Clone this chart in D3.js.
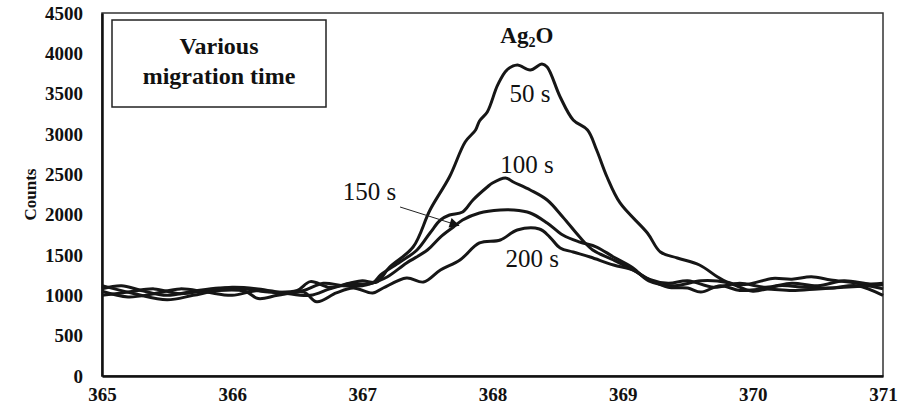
<!DOCTYPE html>
<html>
<head>
<meta charset="utf-8">
<script src="https://cdn.jsdelivr.net/npm/d3@7/dist/d3.min.js"></script>
<style>
	body { margin: 0; background: #fff; }
	svg { display: block; }
	text { font-family: "Liberation Serif", "Times New Roman", serif; fill: #111; }
</style>
</head>
<body>
<div id="chart"></div>
<script>
// binding energy (eV) and counts for each migration time
var energy50 = [365.0, 365.15, 365.3, 365.5, 365.7, 365.9, 366.1, 366.3, 366.5, 366.6, 366.75, 366.9, 367.0, 367.11, 367.21, 367.39, 367.52, 367.67, 367.79, 367.87, 367.9, 367.96, 368.04, 368.11, 368.19, 368.29, 368.38, 368.42, 368.52, 368.62, 368.73, 368.8, 368.88, 368.98, 369.19, 369.29, 369.42, 369.59, 369.73, 369.8, 369.9, 370.0, 370.15, 370.3, 370.45, 370.6, 370.8, 371.0];
var counts50 = [1080, 1120, 1060, 1000, 1050, 1090, 1080, 1040, 1060, 1170, 1100, 1150, 1180, 1165, 1351, 1599, 2058, 2470, 2901, 3050, 3161, 3273, 3608, 3793, 3855, 3793, 3868, 3831, 3459, 3174, 3050, 2802, 2467, 2145, 1773, 1537, 1463, 1376, 1227, 1165, 1130, 1150, 1210, 1200, 1230, 1190, 1150, 1080];

var energy100 = [365.0, 365.2, 365.4, 365.6, 365.8, 366.0, 366.2, 366.4, 366.6, 366.75, 366.9, 367.08, 367.14, 367.29, 367.42, 367.52, 367.6, 367.67, 367.77, 367.85, 367.96, 368.0, 368.1, 368.16, 368.29, 368.42, 368.54, 368.67, 368.77, 368.93, 369.08, 369.2, 369.35, 369.5, 369.7, 369.9, 370.1, 370.3, 370.5, 370.7, 370.9, 371.0];
var counts100 = [1000, 1040, 1080, 1020, 1060, 1100, 1080, 1030, 1000, 1080, 1140, 1153, 1252, 1413, 1562, 1773, 1934, 1996, 2033, 2182, 2343, 2393, 2455, 2405, 2306, 2182, 1971, 1723, 1562, 1438, 1314, 1200, 1150, 1180, 1100, 1150, 1100, 1150, 1120, 1180, 1140, 1150];

var energy150 = [365.0, 365.2, 365.4, 365.6, 365.8, 366.0, 366.2, 366.4, 366.55, 366.7, 366.85, 367.0, 367.08, 367.19, 367.34, 367.5, 367.6, 367.7, 367.77, 367.9, 368.06, 368.16, 368.29, 368.42, 368.54, 368.67, 368.8, 368.93, 369.08, 369.2, 369.4, 369.6, 369.8, 370.0, 370.2, 370.4, 370.6, 370.8, 371.0];
var counts150 = [1050, 980, 1020, 1080, 1040, 1000, 1060, 1020, 1060, 1150, 1120, 1120, 1153, 1227, 1401, 1562, 1723, 1847, 1934, 2021, 2058, 2058, 2021, 1897, 1748, 1661, 1599, 1475, 1339, 1180, 1120, 1180, 1160, 1050, 1120, 1100, 1090, 1120, 1000];

var energy200 = [365.0, 365.25, 365.5, 365.7, 365.9, 366.1, 366.2, 366.35, 366.55, 366.65, 366.8, 366.93, 367.08, 367.16, 367.34, 367.47, 367.6, 367.75, 367.9, 368.06, 368.19, 368.36, 368.44, 368.52, 368.62, 368.75, 368.93, 369.08, 369.2, 369.35, 369.5, 369.6, 369.75, 369.9, 370.1, 370.3, 370.5, 370.7, 370.9, 371.0];
var counts200 = [1120, 1020, 945, 1000, 1060, 1050, 960, 1000, 1040, 920, 1030, 1091, 1029, 1091, 1215, 1165, 1314, 1438, 1649, 1686, 1810, 1822, 1723, 1587, 1537, 1475, 1376, 1314, 1200, 1100, 1090, 1040, 1120, 1060, 1080, 1060, 1080, 1100, 1120, 1130];

var xTicks = [365, 366, 367, 368, 369, 370, 371];
var yTicks = [0, 500, 1000, 1500, 2000, 2500, 3000, 3500, 4000, 4500];

// curve labels, anchored in data units (start of text, baseline)
var labelText = ["50 s", "100 s", "150 s", "200 s"];
var labelX = [368.13, 368.06, 366.85, 368.1];
var labelY = [3397, 2517, 2182, 1351];

document.addEventListener("DOMContentLoaded", function(event) {

	var width = 902;
	var height = 409;
	var margin = {top: 13, right: 19, bottom: 33, left: 102};

	var svg = d3.select("#chart").append("svg")
	.attr("width", width)
	.attr("height", height);

	var x = d3.scaleLinear().domain([365, 371]).range([margin.left, width - margin.right]);
	var y = d3.scaleLinear().domain([0, 4500]).range([height - margin.bottom, margin.top]);

	// frame: thin top/right, heavier left/bottom
	svg.append("rect")
	.attr("x", x(365)).attr("y", y(4500))
	.attr("width", x(371) - x(365)).attr("height", y(0) - y(4500))
	.attr("fill", "none")
	.attr("stroke", "#333")
	.attr("stroke-width", 1.5);

	var xAxis = svg.append("g")
	.attr("transform", "translate(0," + y(0) + ")")
	.call(d3.axisBottom(x).tickValues(xTicks).tickSize(0).tickPadding(12).tickFormat(d3.format("d")));

	var yAxis = svg.append("g")
	.attr("transform", "translate(" + x(365) + ",0)")
	.call(d3.axisLeft(y).tickValues(yTicks).tickSize(0).tickPadding(19).tickFormat(d3.format("d")));

	[xAxis, yAxis].forEach(function(g) {
		g.select(".domain").attr("stroke", "#111").attr("stroke-width", 2.5);
		g.selectAll("text")
		.style("font-family", "'Liberation Serif', serif")
		.style("font-weight", "bold")
		.style("font-size", "19px")
		.attr("fill", "#111");
	});

	svg.append("text")
	.attr("transform", "translate(36," + y(2250) + ") rotate(-90)")
	.attr("text-anchor", "middle")
	.style("font-weight", "bold")
	.style("font-size", "17px")
	.text("Counts");

	// spectra
	var series = [
		{e: energy50, c: counts50},
		{e: energy100, c: counts100},
		{e: energy150, c: counts150},
		{e: energy200, c: counts200}
	];

	var line = d3.line()
	.x(d => x(d[0]))
	.y(d => y(d[1]))
	.curve(d3.curveCatmullRom.alpha(0.5));

	svg.append("g")
	.selectAll("path")
	.data(series)
	.enter().append("path")
	.attr("d", d => line(d.e.map((v, i) => [v, d.c[i]])))
	.attr("fill", "none")
	.attr("stroke", "#161616")
	.attr("stroke-width", 3)
	.attr("stroke-linejoin", "round");

	// curve labels
	svg.append("g")
	.selectAll("text")
	.data(labelText)
	.enter().append("text")
	.attr("x", (d, i) => x(labelX[i]))
	.attr("y", (d, i) => y(labelY[i]))
	.style("font-size", "25px")
	.text(d => d);

	// arrow for the 150 s curve
	svg.append("defs").append("marker")
	.attr("id", "head")
	.attr("viewBox", "0 0 10 10")
	.attr("refX", 9).attr("refY", 5)
	.attr("markerWidth", 14).attr("markerHeight", 10)
	.attr("markerUnits", "userSpaceOnUse")
	.attr("orient", "auto")
	.append("path")
	.attr("d", "M0,0 L10,5 L0,10 z")
	.attr("fill", "#111");

	svg.append("line")
	.attr("x1", x(367.29)).attr("y1", y(2095))
	.attr("x2", x(367.74)).attr("y2", y(1865))
	.attr("stroke", "#222")
	.attr("stroke-width", 1)
	.attr("marker-end", "url(#head)");

	// compound label
	var ag = svg.append("text")
	.attr("x", x(368.06))
	.attr("y", y(4128))
	.style("font-weight", "bold")
	.style("font-size", "23px");
	ag.append("tspan").text("Ag");
	ag.append("tspan").attr("dy", 4).style("font-size", "14px").text("2");
	ag.append("tspan").attr("dy", -4).text("O");

	// legend box
	svg.append("rect")
	.attr("x", 112).attr("y", 20)
	.attr("width", 214).attr("height", 87)
	.attr("fill", "#fff")
	.attr("stroke", "#222")
	.attr("stroke-width", 1.5);

	svg.append("text")
	.attr("x", 219).attr("y", 54)
	.attr("text-anchor", "middle")
	.style("font-weight", "bold")
	.style("font-size", "24px")
	.text("Various");

	svg.append("text")
	.attr("x", 219).attr("y", 84)
	.attr("text-anchor", "middle")
	.style("font-weight", "bold")
	.style("font-size", "24px")
	.text("migration time");
});
</script>
</body>
</html>
